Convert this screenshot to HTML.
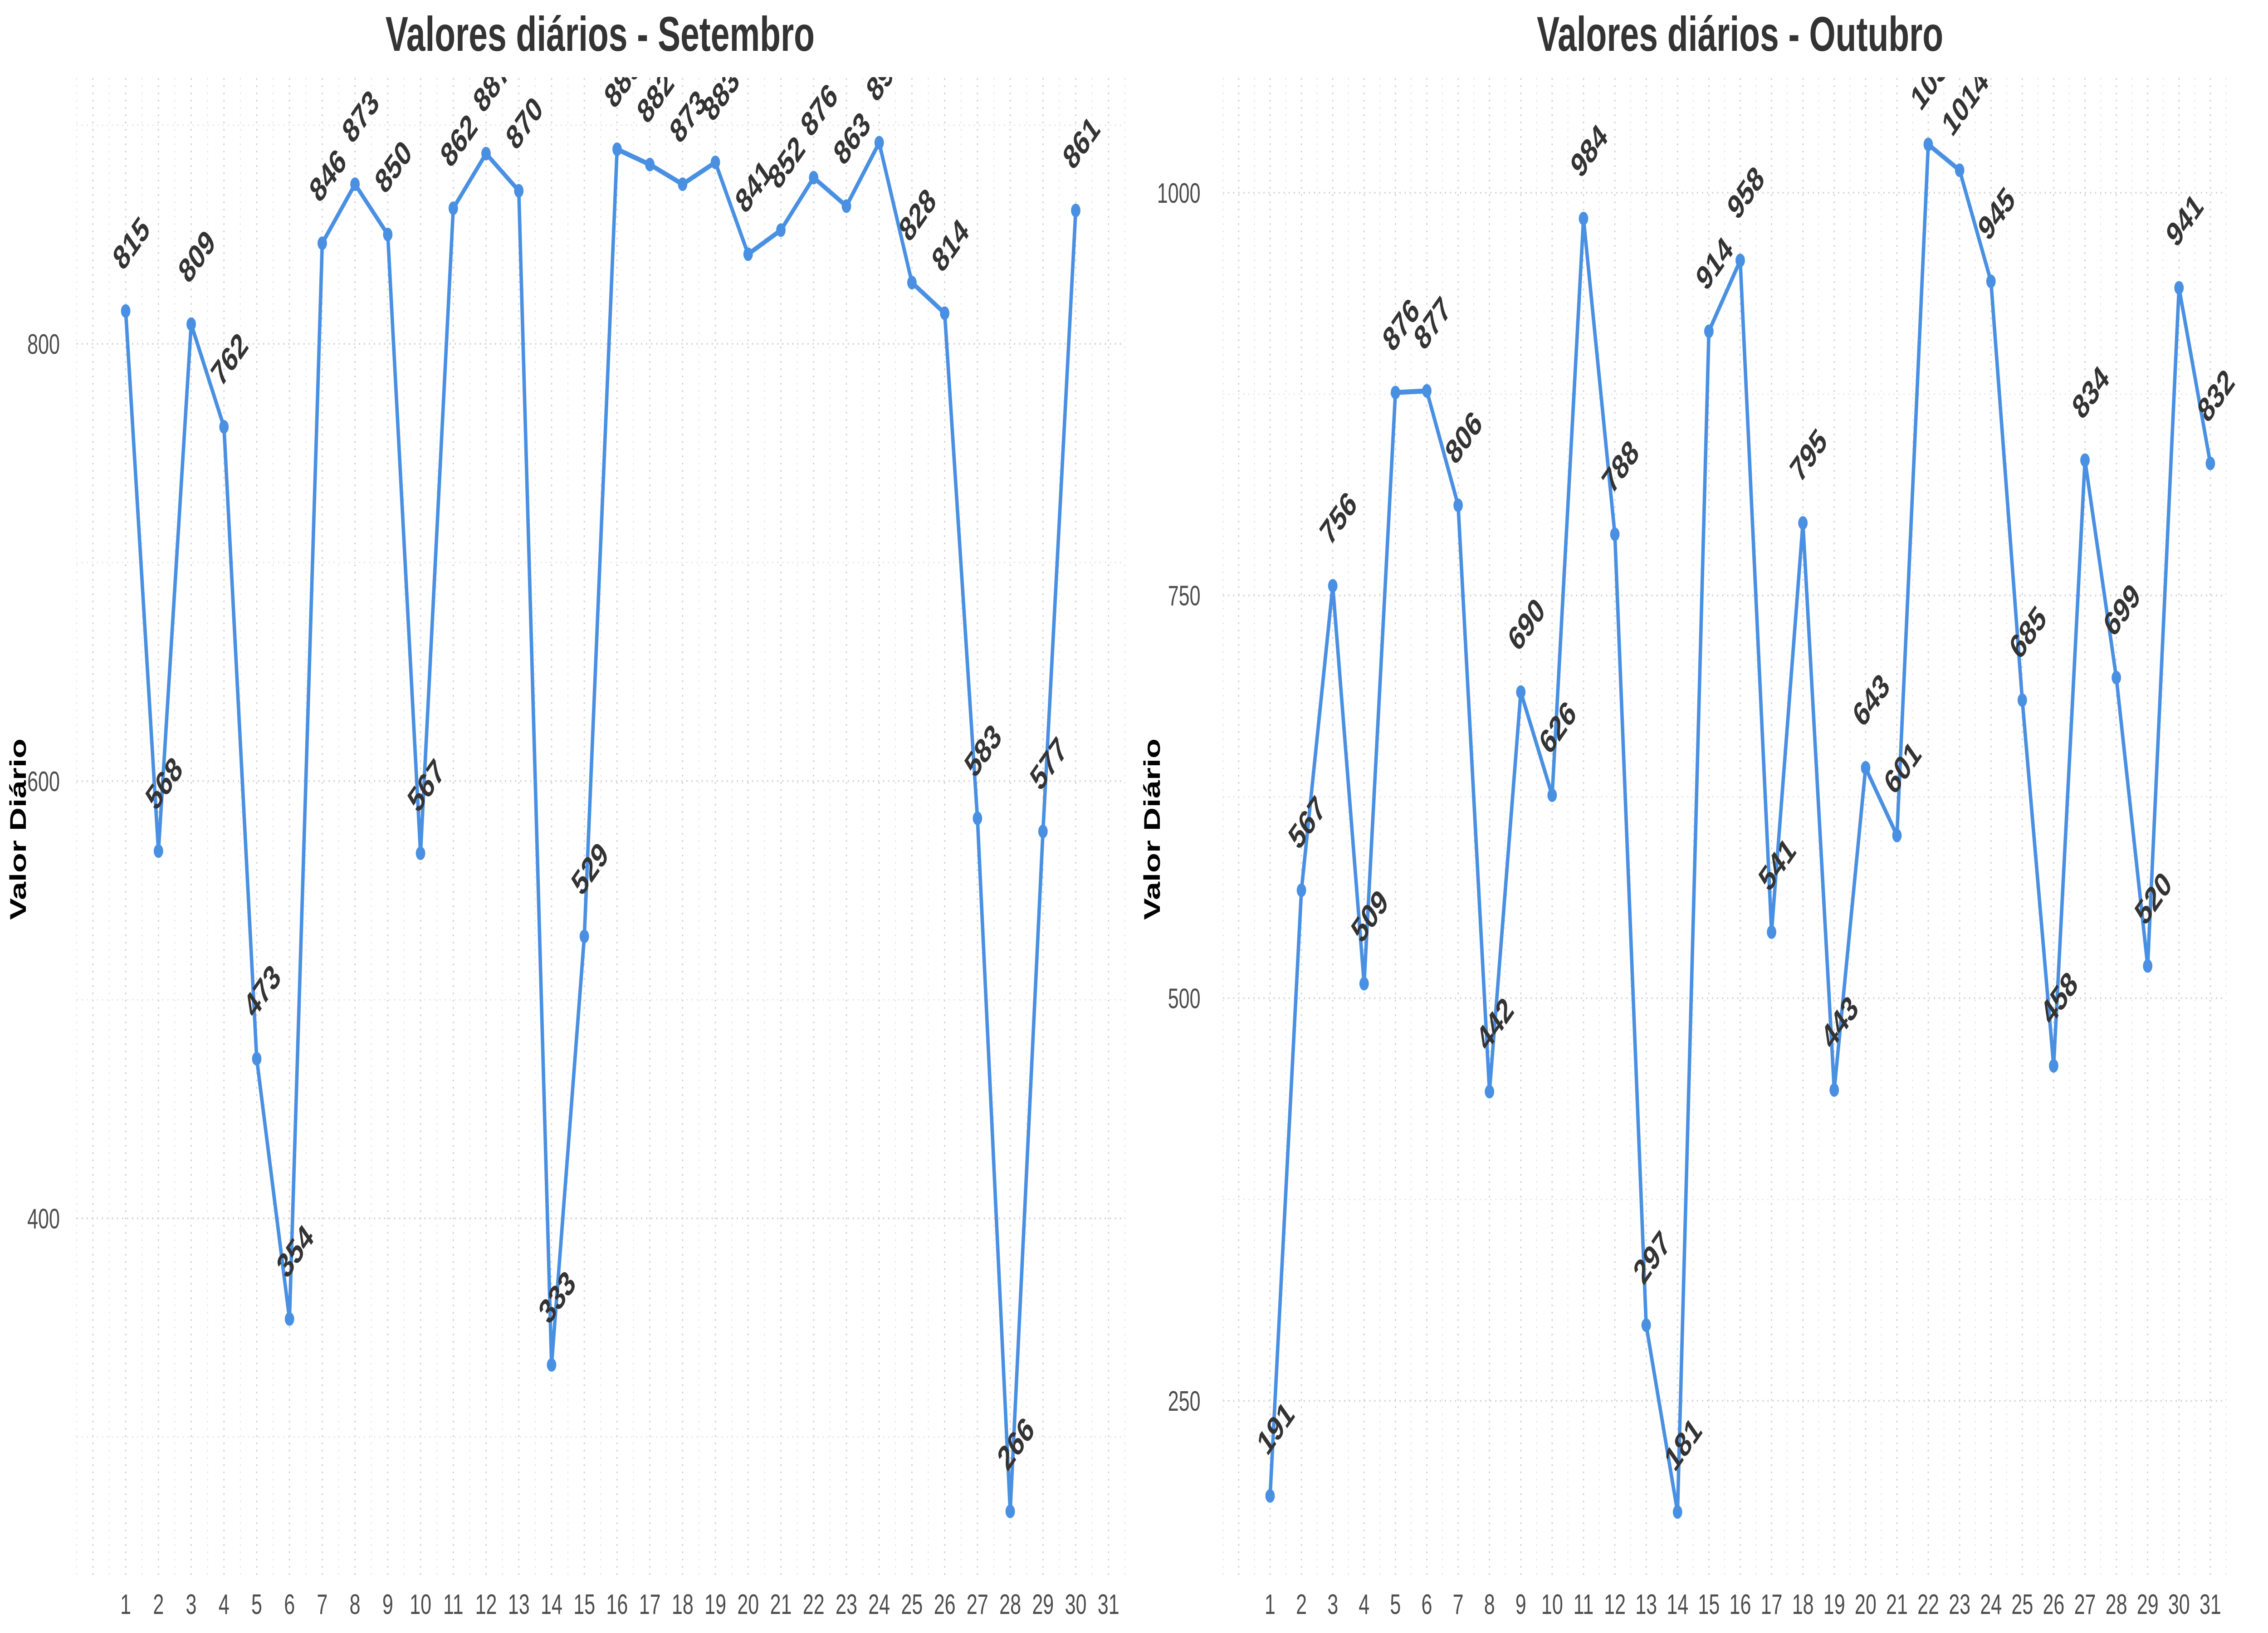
<!DOCTYPE html>
<html><head><meta charset="utf-8">
<style>
html,body{margin:0;padding:0;background:#fff;overflow:hidden;width:100vw;height:100vh;}
svg{display:block;width:100vw;height:100vh;font-family:"Liberation Sans",Arial,sans-serif;}
</style></head>
<body>
<svg id="chart" viewBox="0 0 7200 3600" preserveAspectRatio="none" xmlns="http://www.w3.org/2000/svg">
<defs>
<clipPath id="clipSep"><rect x="290" y="170" width="3280" height="3316"/></clipPath>
<clipPath id="clipOut"><rect x="3960" y="170" width="3210" height="3316"/></clipPath>
</defs>
<text x="1905" y="112" text-anchor="middle" font-size="108" font-weight="bold" fill="#333">Valores diários - Setembro</text>
<text x="5524" y="112" text-anchor="middle" font-size="108" font-weight="bold" fill="#333">Valores diários - Outubro</text>
<text transform="translate(82,1828) rotate(-90)" text-anchor="middle" font-size="72" font-weight="bold" fill="#000">Valor Diário</text>
<text transform="translate(3682,1828) rotate(-90)" text-anchor="middle" font-size="72" font-weight="bold" fill="#000">Valor Diário</text>
<g id="sep"></g>
<g id="out"></g>
</svg>
<script>
const sepDays = [1,2,3,4,5,6,7,8,9,10,11,12,13,14,15,16,17,18,19,20,21,22,23,24,25,26,27,28,29,30];
const sepValues = [815,568,809,762,473,354,846,873,850,567,862,887,870,333,529,889,882,873,883,841,852,876,863,892,828,814,583,266,577,861];
const sepYTicks = [400,600,800];
const sepXTicks = [1,2,3,4,5,6,7,8,9,10,11,12,13,14,15,16,17,18,19,20,21,22,23,24,25,26,27,28,29,30,31];

const outDays = [1,2,3,4,5,6,7,8,9,10,11,12,13,14,15,16,17,18,19,20,21,22,23,24,25,26,27,28,29,30,31];
const outValues = [191,567,756,509,876,877,806,442,690,626,984,788,297,181,914,958,541,795,443,643,601,1030,1014,945,685,458,834,699,520,941,832];
const outYTicks = [250,500,750,1000];
const outXTicks = [1,2,3,4,5,6,7,8,9,10,11,12,13,14,15,16,17,18,19,20,21,22,23,24,25,26,27,28,29,30,31];

const NS = "http://www.w3.org/2000/svg";
function mk(tag, attrs, parent){
  const e = document.createElementNS(NS, tag);
  for (const k in attrs) e.setAttribute(k, attrs[k]);
  parent.appendChild(e);
  return e;
}

function drawPanel(g, cfg, days, values, yTicks, xTicks, prefix){
  const x = d => cfg.x0 + (d - 1) * cfg.dx;
  const y = v => cfg.y0 + (cfg.v0 - v) * cfg.py;
  const top = 172, bottom = 3484;
  const left = x(cfg.dmin), right = x(cfg.dmax);
  const grid = mk('g', {}, g);
  
  
  for (let d = cfg.dmin; d <= cfg.dmax + 0.001; d += 0.5) {
    const major = Math.abs(d - Math.round(d)) < 0.01;
    const l = mk('line', {x1:x(d), x2:x(d), y1:top, y2:bottom, stroke: major ? '#d4d4d4' : '#e6e6e6', 'stroke-width': major ? 4 : 3, 'stroke-dasharray':'4 12'}, grid);
    
    
  }
  const step = yTicks[1] - yTicks[0];
  for (let v = yTicks[0] - step * 1.5; v <= yTicks[yTicks.length-1] + step; v += step / 2) {
    const yy = y(v);
    if (yy < top || yy > bottom) continue;
    const major = yTicks.some(t => Math.abs(t - v) < 0.01);
    const l = mk('line', {x1:left, x2:right, y1:yy, y2:yy, stroke: major ? '#d4d4d4' : '#e6e6e6', 'stroke-width': major ? 4 : 3, 'stroke-dasharray':'4 12'}, grid);
    
    
  }
  yTicks.forEach(t => {
    const tx = mk('text', {x: cfg.yLabelX, y: y(t) + 22, 'text-anchor':'end', 'font-size':62, fill:'#4d4d4d'}, g);
    
    
    tx.textContent = t;
  });
  xTicks.forEach(t => {
    const tx = mk('text', {x: x(t), y: 3558, 'text-anchor':'middle', 'font-size':62, fill:'#4d4d4d'}, g);
    
    
    tx.textContent = t;
  });
  const plot = mk('g', {'clip-path': 'url(#' + cfg.clip + ')'}, g);
  
  
  const pts = days.map((d, i) => x(d) + ',' + y(values[i])).join(' ');
  const line = mk('polyline', {points: pts, fill:'none', stroke:'#4a90e2', 'stroke-width':11, 'stroke-linejoin':'round'}, plot);
  
  
  days.forEach((d, i) => {
    const c = mk('circle', {cx: x(d), cy: y(values[i]), r: 15, fill:'#4a90e2'}, plot);
    
    
  });
  days.forEach((d, i) => {
    const cx = x(d) + 17, cy = y(values[i]) - 150;
    const tx = mk('text', {x: cx, y: cy + 27, 'text-anchor':'middle', 'font-size':76, 'font-weight':'bold', fill:'#333', transform:'rotate(-45 ' + cx + ' ' + cy + ')'}, plot);
    
    
    tx.textContent = values[i];
  });
}

drawPanel(document.getElementById('sep'),
  {x0:399, dx:104, y0:758, v0:800, py:4.82, dmin:-0.5, dmax:31.5, yLabelX:190, clip:'clipSep'},
  sepDays, sepValues, sepYTicks, sepXTicks, 'september');
drawPanel(document.getElementById('out'),
  {x0:4032, dx:99.5, y0:425, v0:1000, py:3.551, dmin:-0.5, dmax:31.5, yLabelX:3811, clip:'clipOut'},
  outDays, outValues, outYTicks, outXTicks, 'october');
</script>
</body></html>
